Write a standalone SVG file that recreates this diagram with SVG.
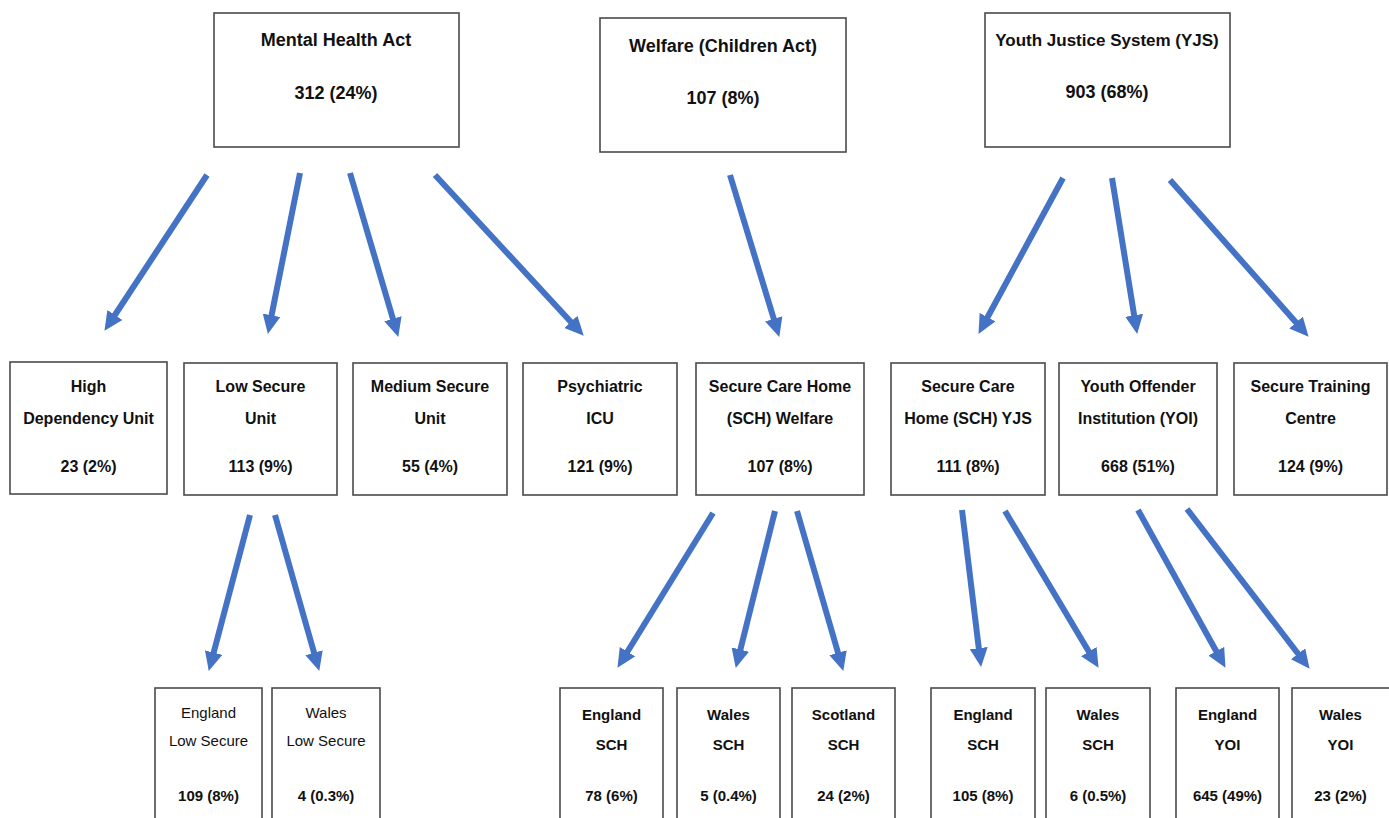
<svg xmlns="http://www.w3.org/2000/svg" width="1389" height="818" viewBox="0 0 1389 818">
<style>
.box{fill:#fff;stroke:#4a4a4a;stroke-width:1.6}
.t{font-family:"Liberation Sans",Arial,sans-serif;font-weight:bold;fill:#111;text-anchor:middle}
.h{font-size:18px}
.m{font-size:16px}
.s{font-size:15px}
.r{font-weight:normal}
.arr{stroke:#4472C4;stroke-width:6;fill:none;marker-end:url(#ah)}
</style>
<defs>
<marker id="ah" markerUnits="userSpaceOnUse" markerWidth="20" markerHeight="18" refX="6" refY="9" orient="auto">
<path d="M0,0 L19,9 L0,18 z" fill="#4472C4"/>
</marker>
</defs>
<g id="connectors">
<line class="arr" x1="207" y1="175" x2="111.6" y2="320"/>
<line class="arr" x1="300" y1="173" x2="270.4" y2="321.2"/>
<line class="arr" x1="350" y1="173" x2="394.6" y2="324.5"/>
<line class="arr" x1="435" y1="175" x2="574.9" y2="326.2"/>
<line class="arr" x1="730" y1="175" x2="775.5" y2="324.5"/>
<line class="arr" x1="1063" y1="178" x2="984.7" y2="322.5"/>
<line class="arr" x1="1112" y1="178" x2="1135.1" y2="321.2"/>
<line class="arr" x1="1170" y1="180" x2="1300" y2="327"/>
<line class="arr" x1="250" y1="515" x2="212.1" y2="658.4"/>
<line class="arr" x1="275" y1="515" x2="315.7" y2="658.5"/>
<line class="arr" x1="713" y1="513" x2="624.3" y2="656.8"/>
<line class="arr" x1="775" y1="511" x2="738.9" y2="655.4"/>
<line class="arr" x1="797" y1="511" x2="839.7" y2="658.5"/>
<line class="arr" x1="962" y1="510" x2="979.5" y2="654.1"/>
<line class="arr" x1="1005" y1="511" x2="1091.9" y2="656.7"/>
<line class="arr" x1="1138" y1="510" x2="1219.2" y2="656.5"/>
<line class="arr" x1="1187" y1="509" x2="1301.7" y2="658.5"/>
</g>
<g id="mha"><rect class="box" x="214" y="13" width="245" height="134"/>
<text class="t h" x="336" y="46">Mental Health Act</text><text class="t h" x="336" y="99">312 (24%)</text></g>
<g id="welfare"><rect class="box" x="600" y="18" width="246" height="134"/>
<text class="t h" x="723" y="52">Welfare (Children Act)</text><text class="t h" x="723" y="104">107 (8%)</text></g>
<g id="yjs"><rect class="box" x="985" y="13" width="245" height="134"/>
<text class="t h" x="1107" y="46" style="font-size:17px">Youth Justice System (YJS)</text><text class="t h" x="1107" y="98">903 (68%)</text></g>

<g id="hdu"><rect class="box" x="10" y="362" width="157" height="132"/>
<text class="t m" x="88.5" y="392">High</text><text class="t m" x="88.5" y="424">Dependency Unit</text><text class="t m" x="88.5" y="472">23 (2%)</text></g>
<g id="lsu"><rect class="box" x="184" y="363" width="153" height="132"/>
<text class="t m" x="260.5" y="392">Low Secure</text><text class="t m" x="260.5" y="424">Unit</text><text class="t m" x="260.5" y="472">113 (9%)</text></g>
<g id="msu"><rect class="box" x="353" y="363" width="154" height="132"/>
<text class="t m" x="430" y="392">Medium Secure</text><text class="t m" x="430" y="424">Unit</text><text class="t m" x="430" y="472">55 (4%)</text></g>
<g id="picu"><rect class="box" x="523" y="363" width="154" height="132"/>
<text class="t m" x="600" y="392">Psychiatric</text><text class="t m" x="600" y="424">ICU</text><text class="t m" x="600" y="472">121 (9%)</text></g>
<g id="schw"><rect class="box" x="696" y="363" width="168" height="132"/>
<text class="t m" x="780" y="392">Secure Care Home</text><text class="t m" x="780" y="424">(SCH) Welfare</text><text class="t m" x="780" y="472">107 (8%)</text></g>
<g id="schy"><rect class="box" x="891" y="363" width="154" height="132"/>
<text class="t m" x="968" y="392">Secure Care</text><text class="t m" x="968" y="424">Home (SCH) YJS</text><text class="t m" x="968" y="472">111 (8%)</text></g>
<g id="yoi"><rect class="box" x="1059" y="363" width="158" height="132"/>
<text class="t m" x="1138" y="392">Youth Offender</text><text class="t m" x="1138" y="424">Institution (YOI)</text><text class="t m" x="1138" y="472">668 (51%)</text></g>
<g id="stc"><rect class="box" x="1234" y="363" width="153" height="132"/>
<text class="t m" x="1310.5" y="392">Secure Training</text><text class="t m" x="1310.5" y="424">Centre</text><text class="t m" x="1310.5" y="472">124 (9%)</text></g>

<g id="eng-ls"><rect class="box" x="155" y="688" width="107" height="140"/>
<text class="t s r" x="208.5" y="718">England</text><text class="t s r" x="208.5" y="746">Low Secure</text><text class="t s" x="208.5" y="801">109 (8%)</text></g>
<g id="wal-ls"><rect class="box" x="272" y="688" width="108" height="140"/>
<text class="t s r" x="326" y="718">Wales</text><text class="t s r" x="326" y="746">Low Secure</text><text class="t s" x="326" y="801">4 (0.3%)</text></g>
<g id="eng-schw"><rect class="box" x="560" y="688" width="103" height="140"/>
<text class="t s" x="611.5" y="720">England</text><text class="t s" x="611.5" y="750">SCH</text><text class="t s" x="611.5" y="801">78 (6%)</text></g>
<g id="wal-schw"><rect class="box" x="677" y="688" width="103" height="140"/>
<text class="t s" x="728.5" y="720">Wales</text><text class="t s" x="728.5" y="750">SCH</text><text class="t s" x="728.5" y="801">5 (0.4%)</text></g>
<g id="sco-schw"><rect class="box" x="792" y="688" width="103" height="140"/>
<text class="t s" x="843.5" y="720">Scotland</text><text class="t s" x="843.5" y="750">SCH</text><text class="t s" x="843.5" y="801">24 (2%)</text></g>
<g id="eng-schy"><rect class="box" x="931" y="688" width="104" height="140"/>
<text class="t s" x="983" y="720">England</text><text class="t s" x="983" y="750">SCH</text><text class="t s" x="983" y="801">105 (8%)</text></g>
<g id="wal-schy"><rect class="box" x="1046" y="688" width="104" height="140"/>
<text class="t s" x="1098" y="720">Wales</text><text class="t s" x="1098" y="750">SCH</text><text class="t s" x="1098" y="801">6 (0.5%)</text></g>
<g id="eng-yoi"><rect class="box" x="1176" y="688" width="103" height="140"/>
<text class="t s" x="1227.5" y="720">England</text><text class="t s" x="1227.5" y="750">YOI</text><text class="t s" x="1227.5" y="801">645 (49%)</text></g>
<g id="wal-yoi"><rect class="box" x="1292" y="688" width="103" height="140"/>
<text class="t s" x="1340.5" y="720">Wales</text><text class="t s" x="1340.5" y="750">YOI</text><text class="t s" x="1340.5" y="801">23 (2%)</text></g>
</svg>
